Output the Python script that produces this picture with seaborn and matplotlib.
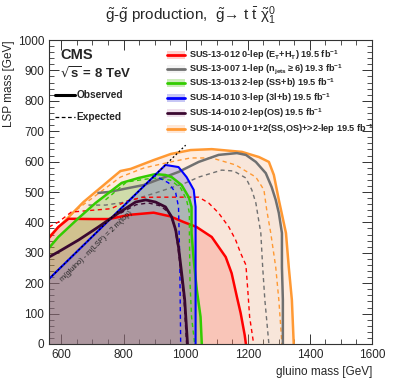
import numpy as np
import pandas as pd
import seaborn as sns
import matplotlib.pyplot as plt
from matplotlib.ticker import MultipleLocator

# exclusion contours (gluino mass, LSP mass) in GeV
red_obs_x = [560, 590, 623, 700, 752, 820, 897, 950, 994, 1035, 1084, 1129, 1148, 1165, 1177, 1190, 1194]
red_obs_y = [349, 385, 412, 411, 411, 425, 432, 420, 401, 385, 352, 286, 233, 155, 102, 30, 0]
red_exp_x = [560, 590, 632, 700, 760, 810, 860, 903, 1042, 1074, 1106, 1139, 1161, 1177, 1194, 1200, 1206, 1219]
red_exp_y = [385, 401, 434, 440, 445, 470, 482, 483, 483, 464, 431, 385, 342, 299, 260, 178, 89, 0]

gray_obs_x = [719, 752, 865, 977, 1042, 1106, 1165, 1194, 1226, 1258, 1277, 1290, 1300, 1310, 1310, 1313, 1313]
gray_obs_y = [497, 500, 523, 566, 599, 622, 628, 622, 599, 562, 516, 474, 431, 365, 253, 145, 0]
gray_exp_x = [687, 742, 806, 903, 1000, 1042, 1116, 1155, 1194, 1213, 1226, 1235, 1242, 1248, 1255, 1268]
gray_exp_y = [457, 457, 467, 497, 530, 549, 572, 569, 546, 507, 464, 408, 365, 253, 145, 0]

green_obs_x = [560, 590, 655, 710, 752, 794, 848, 903, 935, 955, 987, 1010, 1019, 1019, 1026, 1036, 1048, 1052]
green_obs_y = [316, 352, 414, 464, 497, 530, 546, 559, 556, 549, 523, 483, 451, 365, 276, 178, 89, 0]
green_exp_x = [742, 810, 897, 952, 984, 1003, 1012, 1012, 1014, 1019, 1029]
green_exp_y = [474, 533, 546, 539, 513, 474, 431, 365, 201, 89, 0]

blue_obs_x = [560, 935, 977, 1003, 1026, 1032, 1032, 1032]
blue_obs_y = [214, 589, 582, 549, 507, 451, 276, 0]
blue_exp_x = [560, 900, 945, 968, 977, 981, 984]
blue_exp_y = [214, 554, 530, 497, 451, 276, 0]

os_obs_x = [560, 590, 655, 719, 784, 839, 871, 903, 935, 955, 968, 977, 987, 997, 1006]
os_obs_y = [286, 303, 342, 385, 431, 467, 474, 467, 451, 418, 375, 319, 234, 145, 0]
os_exp_x = [790, 840, 880, 920, 950, 965, 975, 985, 995, 1003]
os_exp_y = [430, 458, 464, 454, 428, 385, 320, 230, 140, 0]

comb_obs_x = [560, 671, 790, 823, 897, 952, 1016, 1084, 1181, 1236, 1268, 1284, 1300, 1323, 1332, 1342, 1348]
comb_obs_y = [352, 467, 569, 576, 605, 625, 638, 641, 632, 615, 599, 556, 474, 365, 253, 145, 0]
comb_exp_x = [648, 790, 865, 952, 1016, 1084, 1161, 1226, 1252, 1261, 1274, 1290, 1300, 1310]
comb_exp_y = [441, 549, 579, 599, 612, 612, 589, 549, 507, 441, 365, 253, 145, 0]

diag_x = [560, 1000]
diag_y = [214, 654]

labels = [
    r"SUS-13-012 0-lep ($E_{T}$+$H_{T}$) 19.5 fb$^{-1}$",
    r"SUS-13-007 1-lep (n$_{jets}$$\geq$6) 19.3 fb$^{-1}$",
    r"SUS-13-013 2-lep (SS+b) 19.5 fb$^{-1}$",
    r"SUS-14-010 3-lep (3l+b) 19.5 fb$^{-1}$",
    r"SUS-14-010 2-lep(OS) 19.5 fb$^{-1}$",
    r"SUS-14-010 0+1+2(SS,OS)+>2-lep 19.5 fb$^{-1}$",
]

sns.set_theme(style="ticks")
plt.rcParams['font.family'] = ['Liberation Sans', 'DejaVu Sans']
plt.rcParams['mathtext.default'] = 'regular'

fig = plt.figure(figsize=(3.99, 3.83), dpi=100)
ax = fig.add_axes([49/399, 1-344/383, 323/399, 304/383])

# (line colour, fill colour, fill alpha, obs, exp, lw)
curves = [
    ('#ff9933', '#ff9a50', 0.18, comb_obs_x, comb_obs_y, comb_exp_x, comb_exp_y, 1.8),
    ('#707070', '#aaaaaa', 0.08, gray_obs_x, gray_obs_y, gray_exp_x, gray_exp_y, 1.8),
    ('#ff0000', '#ff3322', 0.18, red_obs_x, red_obs_y, red_exp_x, red_exp_y, 1.8),
    ('#33cc00', '#44bb00', 0.22, green_obs_x, green_obs_y, green_exp_x, green_exp_y, 1.8),
    ('#0000ff', '#3333dd', 0.22, blue_obs_x, blue_obs_y, blue_exp_x, blue_exp_y, 1.5),
    ('#3a0830', '#aa5599', 0.14, os_obs_x, os_obs_y, os_exp_x, os_exp_y, 2.0),
]

for col, fcol, alpha, ox, oy, ex, ey, lw in curves:
    px = list(ox) + [560]
    py = list(oy) + [0]
    if ox[0] > 560:
        px = px + [560]
        py = py + [oy[0] - 150]
    ax.fill(px, py, color=fcol, alpha=alpha, lw=0)
    sns.lineplot(x=ox, y=oy, ax=ax, color=col, lw=lw, sort=False, estimator=None)
    sns.lineplot(x=ex, y=ey, ax=ax, color=col, lw=1.0, ls=(0, (3, 2.5)), sort=False, estimator=None)

# black dotted kinematic line on top
sns.lineplot(x=diag_x, y=diag_y, ax=ax, color='black', lw=0.9, ls=(0, (1.5, 1.8)), sort=False, estimator=None)

ax.set_xlim(560, 1600)
ax.set_ylim(0, 1000)
ax.xaxis.set_major_locator(MultipleLocator(200))
ax.xaxis.set_minor_locator(MultipleLocator(50))
ax.yaxis.set_major_locator(MultipleLocator(100))
ax.yaxis.set_minor_locator(MultipleLocator(20))
ax.tick_params(which='both', direction='in', top=True, right=True, labelsize=8.5, color='#333333')
ax.tick_params(which='major', length=7, width=0.7)
ax.tick_params(which='minor', length=3.5, width=0.6)
for s in ax.spines.values():
    s.set_color('#333333')
    s.set_linewidth(0.8)

ax.set_xlabel("gluino mass [GeV]", fontsize=8.5, loc='right', labelpad=4)
ax.set_ylabel("LSP mass [GeV]", fontsize=8.5, loc='top', labelpad=2)

fig.text(190/399, 1-16/383, r"$\tilde{g}$-$\tilde{g}$ production,  $\tilde{g}$→ t $\bar{t}$ $\tilde{\chi}^{0}_{1}$",
         ha='center', va='center', fontsize=11)

ax.text(0.034, 0.95, "CMS", transform=ax.transAxes, fontsize=10.5, fontweight='bold', va='center')
ax.text(0.034, 0.89, r"$\sqrt{s}$ = 8 TeV", transform=ax.transAxes, fontsize=9.5, fontweight='bold', va='center')

ax.plot([0.019, 0.080], [0.819, 0.819], transform=ax.transAxes, color='black', lw=2.2)
ax.text(0.086, 0.819, "Observed", transform=ax.transAxes, fontsize=7.3, fontweight='bold', va='center')
ax.plot([0.019, 0.080], [0.747, 0.747], transform=ax.transAxes, color='black', lw=0.9, ls=(0, (3, 2)))
ax.text(0.086, 0.747, "Expected", transform=ax.transAxes, fontsize=7.3, fontweight='bold', va='center')

# legend
row_y = [0.951, 0.905, 0.859, 0.809, 0.760, 0.707]
leg = [curves[2], curves[1], curves[3], curves[4], curves[5], curves[0]]
for yy, lab, c in zip(row_y, labels, leg):
    ax.fill([0.365, 0.421, 0.421, 0.365], [yy-0.013, yy-0.013, yy+0.013, yy+0.013],
            transform=ax.transAxes, color=c[1], alpha=c[2] + 0.05, lw=0)
    ax.plot([0.365, 0.421], [yy, yy], transform=ax.transAxes, color=c[0], lw=2)
    ax.text(0.433, yy, lab, transform=ax.transAxes, fontsize=6.6, fontweight='bold', va='center')

ax.text(712, 322, "m(gluino) - m(LSP) = 2 m(top)", rotation=44.5, fontsize=5.3,
        ha='center', va='center', color='#222222', rotation_mode='anchor')

fig.savefig("out.png", dpi=100)
